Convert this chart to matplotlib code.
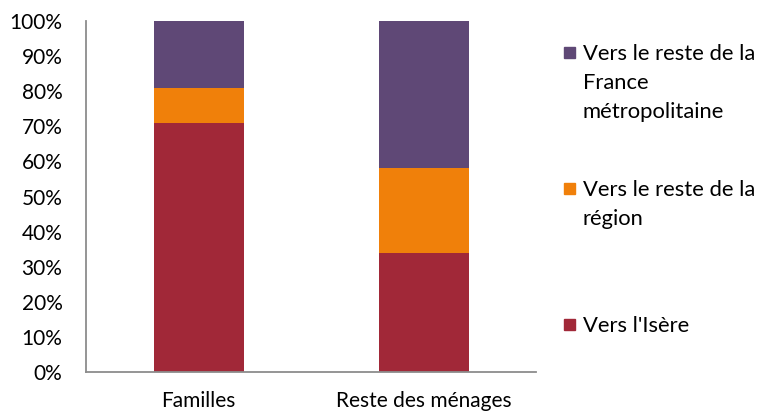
import matplotlib.pyplot as plt
import numpy as np
from matplotlib.patches import Rectangle
from matplotlib.ticker import PercentFormatter

# Destinations des départs, en % par type de ménage
categories = ['Familles', 'Reste des ménages']
vers_isere = [71, 34]
vers_region = [10, 24]
vers_france = [19, 42]

series = [
    ("Vers l'Isère", vers_isere, '#A12838'),
    ('Vers le reste de la\nrégion', vers_region, '#F0800A'),
    ('Vers le reste de la\nFrance\nmétropolitaine', vers_france, '#5F4876'),
]

plt.rcParams['font.family'] = ['Lato', 'DejaVu Sans']
TAILLE = 15
W, H = 770, 412

fig = plt.figure(figsize=(W / 100, H / 100), dpi=100)
ax = fig.add_axes([86 / W, 1 - 372 / H, 450 / W, 351 / H])

x = np.arange(len(categories))
bas = np.zeros(len(categories))
for label, valeurs, couleur in series:
    ax.bar(x, valeurs, width=0.4, bottom=bas, color=couleur, label=label)
    bas += np.array(valeurs)

ax.set_xlim(-0.5, 1.5)
ax.set_ylim(0, 100)
ax.set_yticks(np.arange(0, 101, 10))
ax.yaxis.set_major_formatter(PercentFormatter(decimals=0))
ax.set_xticks(x)
ax.set_xticklabels(categories)
ax.tick_params(axis='y', length=0, pad=17, labelsize=TAILLE)
ax.tick_params(axis='x', length=0, pad=14, labelsize=TAILLE)

for cote in ['top', 'right']:
    ax.spines[cote].set_visible(False)
for cote in ['left', 'bottom']:
    ax.spines[cote].set_color('#8c8c8c')
    ax.spines[cote].set_linewidth(1.3)

# légende à droite : carré aligné sur la première ligne de chaque entrée
y_debut, pas_entree, pas_ligne = 52, 136, 29
for i, (label, _, couleur) in enumerate(series[::-1]):
    y0 = y_debut + pas_entree * i
    fig.patches.append(Rectangle((564 / W, 1 - (y0 + 5.5) / H), 11 / W, 11 / H,
                                 transform=fig.transFigure, color=couleur))
    for j, ligne in enumerate(label.split('\n')):
        yl = y0 + pas_ligne * j
        fig.text(583 / W, 1 - yl / H, ligne, fontsize=15.8,
                 va='center_baseline', ha='left')

fig.savefig('out.png', dpi=100)
